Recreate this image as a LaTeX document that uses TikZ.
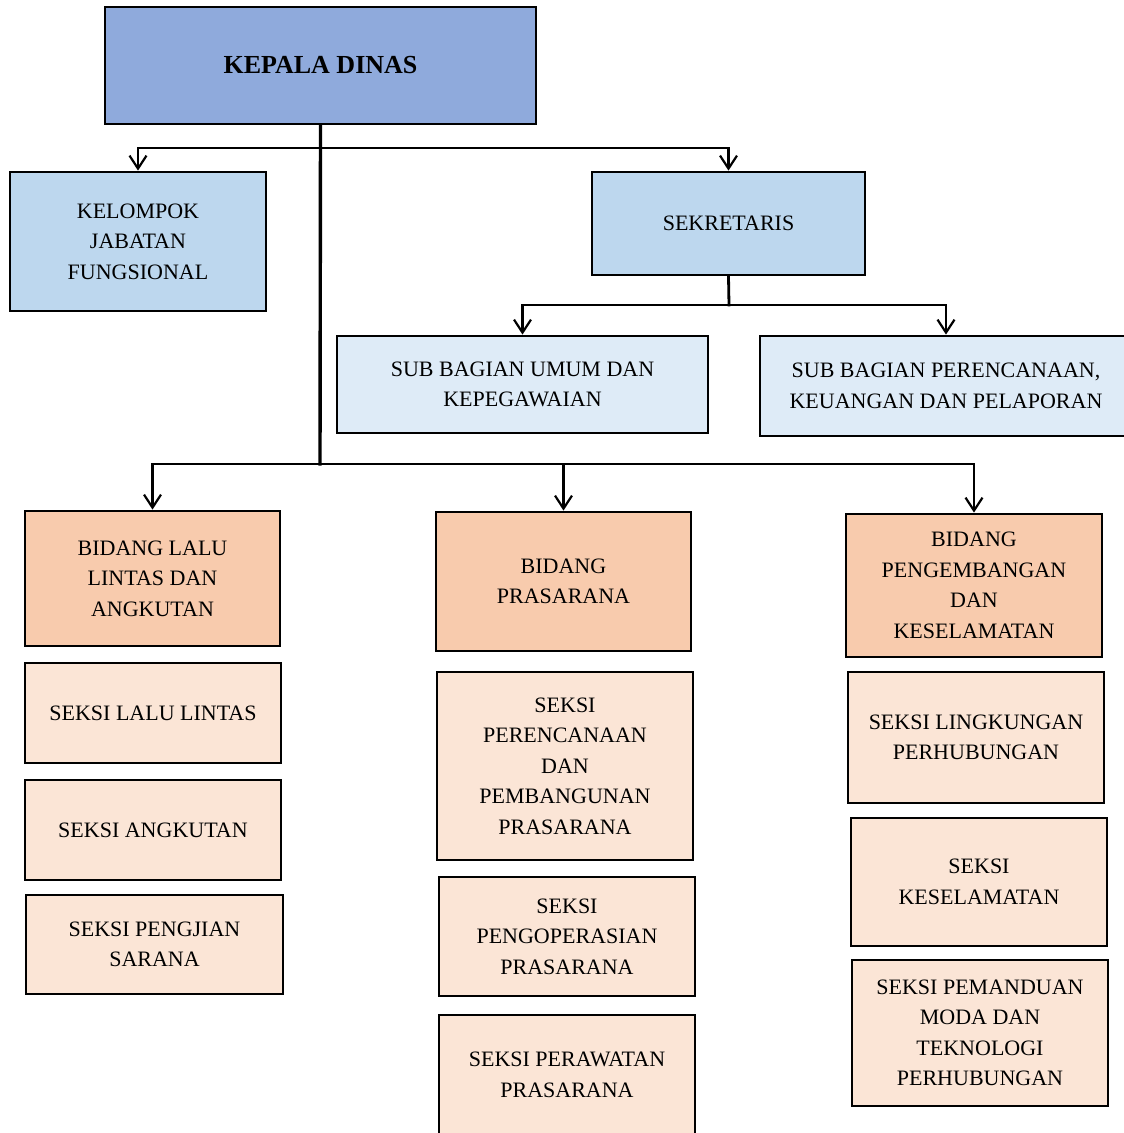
\documentclass[tikz,border=0pt]{standalone}
\usepackage{fontspec}
\setmainfont{Liberation Serif}
\usetikzlibrary{arrows.meta}
\definecolor{kdfill}{HTML}{8FAADC}
\definecolor{lbfill}{HTML}{BDD7EE}
\definecolor{vlbfill}{HTML}{DEEBF7}
\definecolor{orfill}{HTML}{F8CBAD}
\definecolor{lofill}{HTML}{FBE5D6}
\begin{document}
\begin{tikzpicture}[x=1pt,y=-1pt,
  box/.style={draw=black, line width=2.8pt, inner sep=0pt, align=center,
    font=\fontsize{22}{30.5}\selectfont},
  bus/.style={line width=2.8pt, line cap=rect},
  conn/.style={line width=2.8pt, -{Straight Barb[length=13pt,width=17pt,line width=2.2pt]}}]
\clip (0,0) rectangle (1124,1133);
\fill[white] (0,0) rectangle (1124,1133);
% top
\node[box, fill=kdfill, minimum width=431, minimum height=117,
  font=\fontsize{26}{30}\selectfont\bfseries] (kd) at (320.5,65.5) {KEPALA DINAS};
\node[box, fill=lbfill, minimum width=256, minimum height=139] (kjf) at (138,241.5)
  {KELOMPOK\\JABATAN\\FUNGSIONAL};
\node[box, fill=lbfill, minimum width=273, minimum height=103] (sek) at (728.5,223.5)
  {SEKRETARIS};
\node[box, fill=vlbfill, minimum width=371, minimum height=97] (sbu) at (522.5,384.5)
  {SUB BAGIAN UMUM DAN\\KEPEGAWAIAN};
\node[box, fill=vlbfill, minimum width=372, minimum height=100] (sbp) at (946,386)
  {SUB BAGIAN PERENCANAAN,\\KEUANGAN DAN PELAPORAN};
% bidang
\node[box, fill=orfill, minimum width=255, minimum height=135] (bl) at (152.5,578.5)
  {BIDANG LALU\\LINTAS DAN\\ANGKUTAN};
\node[box, fill=orfill, minimum width=255, minimum height=139] (bp) at (563.5,581.5)
  {BIDANG\\PRASARANA};
\node[box, fill=orfill, minimum width=256, minimum height=143] (bk) at (974,585.5)
  {BIDANG\\PENGEMBANGAN\\DAN\\KESELAMATAN};
% seksi left
\node[box, fill=lofill, minimum width=256, minimum height=100] (s1) at (153,713)
  {SEKSI LALU LINTAS};
\node[box, fill=lofill, minimum width=256, minimum height=100] (s2) at (153,830)
  {SEKSI ANGKUTAN};
\node[box, fill=lofill, minimum width=257, minimum height=99] (s3) at (154.5,944.5)
  {SEKSI PENGJIAN\\SARANA};
% seksi middle
\node[box, fill=lofill, minimum width=256, minimum height=188] (s4) at (565,766)
  {SEKSI\\PERENCANAAN\\DAN\\PEMBANGUNAN\\PRASARANA};
\node[box, fill=lofill, minimum width=256, minimum height=119] (s5) at (567,936.5)
  {SEKSI\\PENGOPERASIAN\\PRASARANA};
\node[box, fill=lofill, minimum width=256, minimum height=120] (s6) at (567,1075)
  {SEKSI PERAWATAN\\PRASARANA};
% seksi right
\node[box, fill=lofill, minimum width=256, minimum height=131] (s7) at (976,737.5)
  {SEKSI LINGKUNGAN\\PERHUBUNGAN};
\node[box, fill=lofill, minimum width=256, minimum height=128] (s8) at (979,882)
  {SEKSI\\KESELAMATAN};
\node[box, fill=lofill, minimum width=256, minimum height=146] (s9) at (980,1033)
  {SEKSI PEMANDUAN\\MODA DAN\\TEKNOLOGI\\PERHUBUNGAN};
% connectors
\coordinate (b1) at (320,148);
\coordinate (b2) at (729,305);
\coordinate (b3) at (320,464);
\draw[bus, line width=3.4pt] (kd.south) -- (b3);
\draw[bus] (kjf.north |- b1) -- (sek.north |- b1);
\draw[conn] (kjf.north |- b1) -- (kjf.north);
\draw[conn] (sek.north |- b1) -- (sek.north);
\draw[bus] (sek.south) -- (b2);
\draw[bus] (sbu.north |- b2) -- (sbp.north |- b2);
\draw[conn] (sbu.north |- b2) -- (sbu.north);
\draw[conn] (sbp.north |- b2) -- (sbp.north);
\draw[bus] (bl.north |- b3) -- (bk.north |- b3);
\draw[conn] (bl.north |- b3) -- (bl.north);
\draw[conn] (bp.north |- b3) -- (bp.north);
\draw[conn] (bk.north |- b3) -- (bk.north);
\end{tikzpicture}
\end{document}
